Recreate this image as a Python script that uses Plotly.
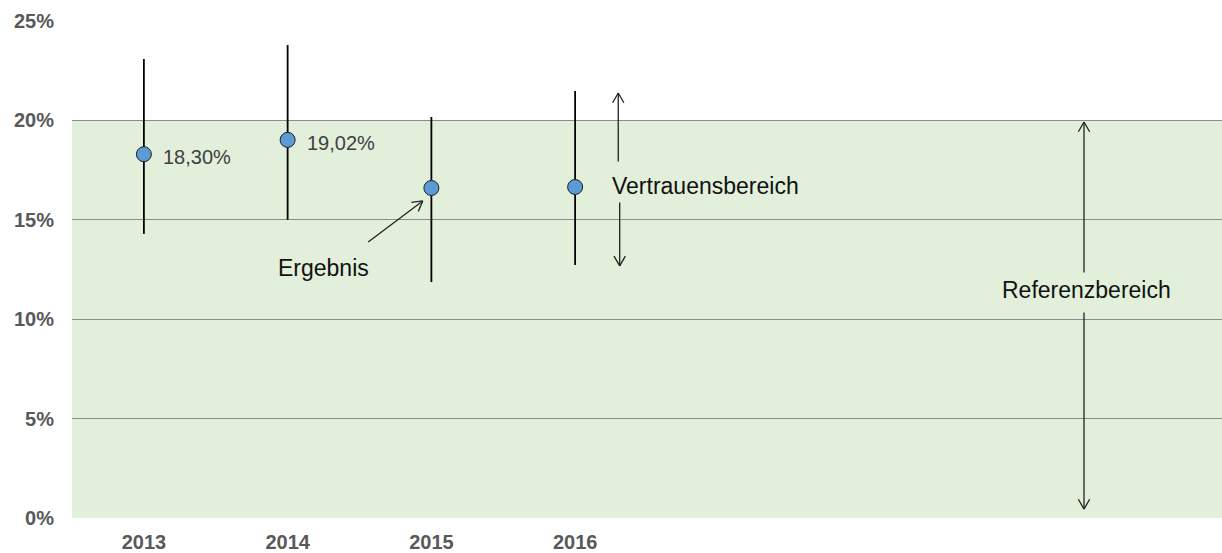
import math
import plotly.graph_objects as go

# Jahre mit Ergebnis und Vertrauensbereich (in %)
years = ["2013", "2014", "2015", "2016"]
n_slots = 8  # vier Jahre plus Platz für die Beschriftung des Referenzbereichs
results = [18.30, 19.02, 16.60, 16.65]
ci_low = [14.29, 15.00, 11.87, 12.73]
ci_high = [23.09, 23.79, 20.17, 21.48]
show_label = [True, True, False, False]
reference_upper = 20.0
y_ticks = [0, 5, 10, 15, 20, 25]

font_family = "Liberation Sans, Arial, sans-serif"
x_pos = list(range(len(years)))

W, H = 1222, 553
M_L, M_R, M_T, M_B = 72, 0, 21, 35
Y_MAX = 25
px_per_x = (W - M_L - M_R) / n_slots
px_per_y = (H - M_T - M_B) / Y_MAX

fig = go.Figure()

# Referenzbereich als grün hinterlegte Fläche
fig.add_shape(
    type="rect", xref="paper", yref="y",
    x0=0, x1=1, y0=0, y1=reference_upper,
    fillcolor="#E2EFDA", line=dict(width=0), layer="below",
)

fig.add_trace(go.Scatter(
    x=x_pos,
    y=results,
    mode="markers",
    marker=dict(size=15, color="#5B9BD5", line=dict(color="#1F1F1F", width=1)),
    error_y=dict(
        type="data",
        symmetric=False,
        array=[h - v for h, v in zip(ci_high, results)],
        arrayminus=[v - l for v, l in zip(results, ci_low)],
        color="#000000",
        thickness=1.8,
        width=0,
    ),
    showlegend=False,
    hoverinfo="skip",
))

annotations = []
for xp, v, lab in zip(x_pos, results, show_label):
    if lab:
        annotations.append(dict(
            x=xp, y=v, xref="x", yref="y",
            text=f"{v:.2f}".replace(".", ",") + "%",
            showarrow=False, xanchor="left", xshift=17, yshift=-3,
            font=dict(family=font_family, size=20, color="#404040"),
        ))

text_font = dict(family=font_family, size=23, color="#111111")
line_color = "#222222"


def add_arrow(x0, y0, x1, y1, head_len=13, spread_deg=30):
    """Pfeil von (x0, y0) nach (x1, y1) mit offener Spitze."""
    annotations.append(dict(
        x=x1, y=y1, ax=x0, ay=y0, xref="x", yref="y", axref="x", ayref="y",
        text="", showarrow=True, arrowhead=0, arrowwidth=1.3,
        arrowcolor=line_color, standoff=0, startstandoff=0,
    ))
    # Richtung in Bildschirmpixeln (y nach unten)
    dx = (x0 - x1) * px_per_x
    dy = -(y0 - y1) * px_per_y
    ang = math.atan2(dy, dx)
    for s in (-1, 1):
        a = ang + s * math.radians(spread_deg)
        annotations.append(dict(
            x=x1, y=y1, xref="x", yref="y",
            ax=head_len * math.cos(a), ay=head_len * math.sin(a),
            text="", showarrow=True, arrowhead=0, arrowwidth=1.3,
            arrowcolor=line_color, standoff=0, startstandoff=0,
        ))


# Ergebnis
annotations.append(dict(x=1.25, y=12.6, xref="x", yref="y", text="Ergebnis",
                        showarrow=False, font=text_font))
add_arrow(1.55, 13.83, 1.94, 15.95)

# Vertrauensbereich
annotations.append(dict(x=3.245, y=16.70, xref="x", yref="y", text="Vertrauensbereich",
                        showarrow=False, xanchor="left", font=text_font))
add_arrow(3.30, 17.86, 3.30, 21.38)
add_arrow(3.31, 15.95, 3.31, 12.68)

# Referenzbereich
annotations.append(dict(x=6.56, y=11.47, xref="x", yref="y", text="Referenzbereich",
                        showarrow=False, font=text_font))
add_arrow(6.54, 12.27, 6.54, 19.92)
add_arrow(6.54, 10.41, 6.54, 0.45)

tick_font = dict(family=font_family, size=20, color="#595959", weight="bold")

fig.update_layout(
    width=W, height=H,
    margin=dict(l=M_L, r=M_R, t=M_T, b=M_B),
    plot_bgcolor="white", paper_bgcolor="white",
    annotations=annotations,
    xaxis=dict(
        range=[-0.5, n_slots - 0.5],
        tickvals=x_pos, ticktext=years,
        showgrid=False, zeroline=False, showline=False,
        ticks="", ticklabelstandoff=10,
        tickfont=tick_font,
    ),
    yaxis=dict(
        range=[0, Y_MAX],
        tickvals=y_ticks, ticktext=[f"{t}%" for t in y_ticks],
        showgrid=True, gridcolor="#8C8C8C", gridwidth=1.4,
        zeroline=False, showline=False, ticks="",
        ticklabelstandoff=17,
        tickfont=tick_font,
    ),
)

fig.write_html("out.html")
